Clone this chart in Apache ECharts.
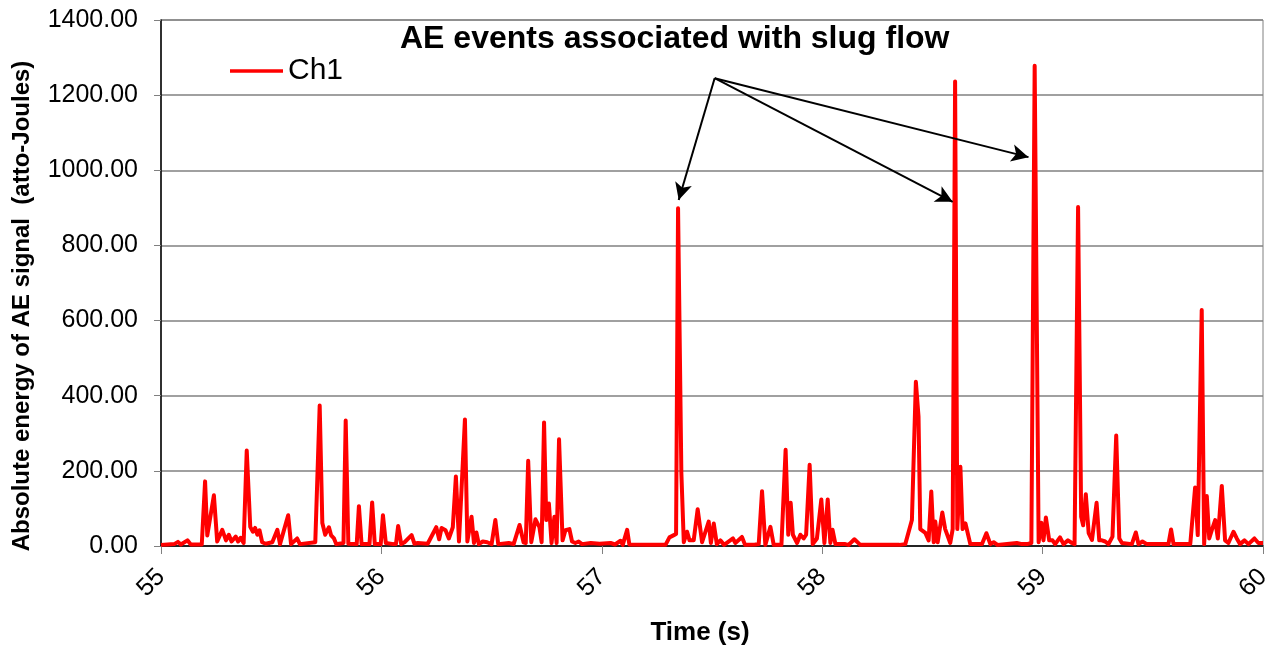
<!DOCTYPE html>
<html>
<head>
<meta charset="utf-8">
<script src="https://cdn.jsdelivr.net/npm/echarts@6/dist/echarts.min.js"></script>
<style>
html,body{margin:0;padding:0;background:#fff;}
#chart{width:1280px;height:646px;}
</style>
</head>
<body>
<div id="chart"></div>
<script>
// Time (s) of each sample
const times = [
55.000,55.030,55.060,55.077,55.090,55.120,55.135,55.185,55.200,55.210,55.240,55.255,55.278,55.295,55.308,55.320,55.339,55.350,55.361,55.375,55.389,55.405,55.417,55.427,55.437,55.447,55.459,55.475,55.505,55.528,55.540,55.577,55.590,55.618,55.630,55.700,55.720,55.732,55.745,55.762,55.772,55.785,55.795,55.828,55.838,55.850,55.888,55.898,55.910,55.946,55.958,55.970,55.997,56.007,56.020,56.055,56.066,56.076,56.090,56.105,56.137,56.150,56.165,56.210,56.249,56.262,56.273,56.291,56.306,56.324,56.338,56.352,56.379,56.390,56.409,56.420,56.431,56.442,56.460,56.480,56.500,56.517,56.530,56.578,56.600,56.627,56.645,56.655,56.666,56.680,56.699,56.717,56.727,56.738,56.748,56.760,56.772,56.785,56.795,56.806,56.822,56.835,56.853,56.865,56.880,56.895,56.910,56.950,56.990,57.040,57.060,57.085,57.095,57.115,57.125,57.200,57.289,57.307,57.327,57.337,57.346,57.361,57.372,57.387,57.398,57.417,57.435,57.455,57.485,57.495,57.508,57.522,57.538,57.555,57.595,57.606,57.636,57.650,57.695,57.712,57.727,57.742,57.765,57.780,57.815,57.834,57.846,57.857,57.867,57.886,57.901,57.916,57.927,57.943,57.957,57.976,57.996,58.010,58.025,58.037,58.047,58.060,58.105,58.120,58.146,58.173,58.250,58.350,58.377,58.407,58.425,58.437,58.445,58.468,58.483,58.495,58.506,58.513,58.524,58.545,58.558,58.581,58.592,58.603,58.613,58.627,58.637,58.650,58.672,58.725,58.745,58.763,58.778,58.795,58.883,58.906,58.929,58.949,58.964,58.982,58.994,59.004,59.015,59.030,59.045,59.057,59.079,59.095,59.115,59.133,59.145,59.161,59.175,59.184,59.196,59.209,59.224,59.245,59.257,59.269,59.284,59.299,59.317,59.334,59.348,59.360,59.405,59.423,59.435,59.453,59.473,59.540,59.571,59.583,59.594,59.670,59.692,59.704,59.712,59.722,59.733,59.745,59.756,59.768,59.783,59.795,59.813,59.828,59.843,59.866,59.881,59.896,59.916,59.934,59.961,59.979,60.000
];
// Ch1 absolute energy (atto-Joules)
const ch1 = [
3,4,5,11,4,15,4,4,172,28,135,12,43,15,30,12,25,12,22,8,254,51,38,48,30,42,10,6,10,43,5,82,5,20,5,10,374,61,30,50,28,20,5,8,334,6,5,106,5,5,116,5,5,82,8,5,5,53,5,10,29,6,8,6,50,18,48,42,20,50,185,12,337,12,78,8,36,5,12,10,5,69,5,8,5,56,10,8,227,10,71,50,10,329,69,113,8,78,8,284,15,42,45,12,8,12,5,8,6,8,4,14,3,43,4,3,3,23,29,32,899,194,10,38,15,15,98,10,65,8,60,5,15,3,20,8,24,3,4,5,146,3,51,3,3,256,30,115,30,8,30,20,30,216,5,20,124,8,124,8,43,5,5,3,18,3,3,3,5,69,437,344,45,35,15,145,10,65,10,89,45,8,45,1236,45,211,45,60,5,5,34,5,10,3,8,5,5,8,1278,10,62,15,76,15,15,5,23,5,15,8,5,902,78,55,138,34,16,115,15,15,12,5,25,294,20,8,5,36,5,12,5,5,5,44,5,5,156,29,25,628,5,133,20,43,69,20,160,15,8,38,20,5,15,5,20,8,8
];
// Axis settings
const xTicks = [55, 56, 57, 58, 59, 60];
const yMin = 0, yMax = 1400, yStep = 200;
// Arrow annotations: shared start point and three end points [time, value]
const arrowStart = [57.512, 1245];
const arrowEnds = [[57.349, 921], [58.592, 916], [58.936, 1035]];

const seriesData = times.map((t, i) => [t, ch1[i]]);
const FONT = "'Liberation Sans', Arial, sans-serif";

const chart = echarts.init(document.getElementById('chart'), null, {renderer: 'canvas'});
chart.setOption({
  animation: false,
  backgroundColor: '#ffffff',
  title: {
    text: 'AE events associated with slug flow',
    left: 400, top: 23, padding: 0,
    textStyle: {fontFamily: FONT, fontSize: 32, fontWeight: 'bold', color: '#000'}
  },
  legend: {
    left: 230, top: 56, padding: 0,
    icon: 'rect', itemWidth: 53, itemHeight: 3.5,
    textStyle: {fontFamily: FONT, fontSize: 30, color: '#000'},
    data: ['Ch1']
  },
  grid: {
    left: 161, right: 17, top: 20, bottom: 100,
    containLabel: false, outerBoundsMode: 'none',
    show: true, borderColor: '#808080', borderWidth: 1
  },
  xAxis: {
    type: 'value', min: xTicks[0], max: xTicks[xTicks.length - 1], interval: 1,
    name: 'Time (s)', nameLocation: 'middle', nameGap: 74,
    nameTextStyle: {fontFamily: FONT, fontSize: 26, fontWeight: 'bold', color: '#000', padding: [0, 24, 0, 0]},
    axisLine: {show: true, onZero: false, lineStyle: {color: '#000', width: 1.5}},
    axisTick: {show: true, inside: false, length: 8, lineStyle: {color: '#808080', width: 1}},
    axisLabel: {rotate: 45, margin: 27, fontFamily: FONT, fontSize: 25, color: '#000'},
    splitLine: {show: false}
  },
  yAxis: {
    type: 'value', min: yMin, max: yMax, interval: yStep,
    axisLine: {show: true, lineStyle: {color: '#000', width: 1.5}},
    axisTick: {show: true, inside: false, length: 7, lineStyle: {color: '#808080', width: 1}},
    axisLabel: {margin: 23, fontFamily: FONT, fontSize: 25, color: '#000', formatter: v => v.toFixed(2)},
    splitLine: {show: true, lineStyle: {color: '#808080', width: 1.5}}
  },
  graphic: [{
    type: 'text', x: 22, y: 306, rotation: Math.PI / 2,
    style: {
      text: 'Absolute energy of AE signal  (atto-Joules)',
      font: "bold 24px 'Liberation Sans', Arial, sans-serif",
      fill: '#000', align: 'center', verticalAlign: 'middle'
    }
  }],
  series: [{
    name: 'Ch1', type: 'line', data: seriesData,
    symbol: 'none', smooth: false,
    lineStyle: {color: '#ff0000', width: 4, join: 'round'},
    itemStyle: {color: '#ff0000'},
    markLine: {
      silent: true, symbol: ['none', 'arrow'], symbolSize: [13, 17],
      label: {show: false},
      lineStyle: {color: '#000', width: 2, type: 'solid'},
      emphasis: {disabled: true},
      data: arrowEnds.map(e => [{coord: arrowStart}, {coord: e}])
    }
  }]
});
</script>
</body>
</html>
